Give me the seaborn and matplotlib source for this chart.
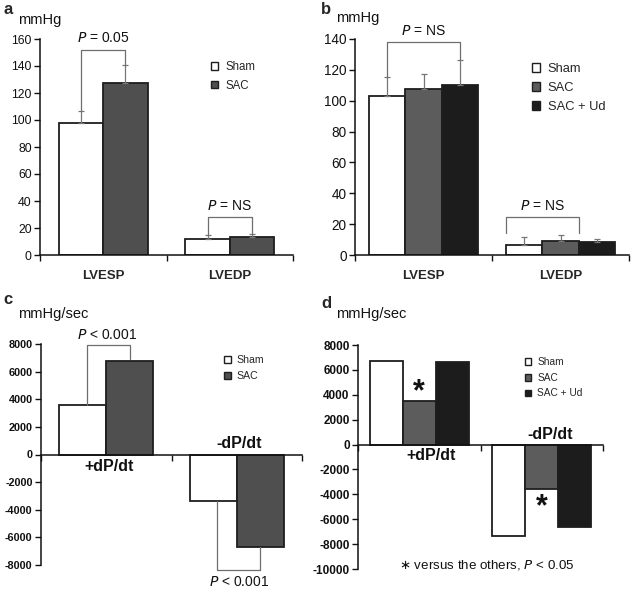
import numpy as np
import pandas as pd
import matplotlib
matplotlib.use("Agg")
import matplotlib.pyplot as plt
from matplotlib.patches import Patch
import seaborn as sns

sns.set_theme(style="white")
plt.rcParams['font.family'] = ['Liberation Sans', 'DejaVu Sans']
plt.rcParams['axes.unicode_minus'] = False

# ---------------- data ----------------
pressure_cats = ["LVESP", "LVEDP"]
deriv_cats = ["+dP/dt", "-dP/dt"]

# panel a
a_groups = ["Sham", "SAC"]
a_sham = [97.5, 11.5]
a_sac = [127.5, 13.5]
a_sham_err = [9.5, 3.3]
a_sac_err = [13.5, 2.0]

# panel b
b_groups = ["Sham", "SAC", "SAC + Ud"]
b_sham = [103, 6.5]
b_sac = [107.5, 9.3]
b_ud = [110.5, 8.2]
b_sham_err = [12.5, 5.4]
b_sac_err = [10.0, 3.7]
b_ud_err = [16.0, 2.0]

# panel c
c_groups = ["Sham", "SAC"]
c_sham = [3600, -3400]
c_sac = [6800, -6700]

# panel d
d_groups = ["Sham", "SAC", "SAC + Ud"]
d_sham = [6700, -7350]
d_sac = [3500, -3600]
d_ud = [6600, -6600]

a_yticks = list(range(0, 161, 20))
b_yticks = list(range(0, 141, 20))
c_yticks = list(range(-8000, 8001, 2000))
d_yticks = list(range(-10000, 8001, 2000))

# ---------------- styles ----------------
W, H = 633, 591
fig = plt.figure(figsize=(W / 100, H / 100), dpi=100)

def add_ax(left, top, right, bottom):
    return fig.add_axes([left / W, 1 - bottom / H, (right - left) / W, (bottom - top) / H])

EDGE = "#1e1e1e"
BRK = "#6e6e6e"
colors_ab = {"Sham": "white", "SAC": "#4f4f4f", "SAC + Ud": "#1c1c1c"}
colors_b = {"Sham": "white", "SAC": "#5c5c5c", "SAC + Ud": "#1c1c1c"}


def make_df(cats, groups, series):
    rows = []
    for g, vals in zip(groups, series):
        for c, v in zip(cats, vals):
            rows.append({"cat": c, "group": g, "val": v})
    return pd.DataFrame(rows)


def draw(ax, cats, groups, series, palette, width, ylim, yticks, tick_size, tick_bold,
         zero_axis):
    df = make_df(cats, groups, series)
    sns.barplot(data=df, x="cat", y="val", hue="group", order=cats, hue_order=groups,
                palette=palette, width=width, edgecolor=EDGE, linewidth=1.3,
                errorbar=None, legend=False, ax=ax, saturation=1)
    ax.set_xlim(-0.5, 1.5)
    ax.set_ylim(*ylim)
    ax.set_yticks(yticks)
    ax.set_yticklabels([str(v) for v in yticks], fontsize=tick_size,
                       fontweight="bold" if tick_bold else "normal", color="#111111")
    ax.set_xlabel("")
    ax.set_ylabel("")
    for s in ["top", "right"]:
        ax.spines[s].set_visible(False)
    for s in ["left", "bottom"]:
        ax.spines[s].set_color("#111111")
        ax.spines[s].set_linewidth(1.1)
    if zero_axis:
        ax.spines["bottom"].set_position(("data", 0))
    ax.set_xticks([-0.5, 0.5, 1.5], minor=True)
    ax.tick_params(axis="x", which="minor", length=4, width=1, color="#111111",
                   direction="out", bottom=True)
    ax.tick_params(axis="y", length=4, width=1, color="#111111", direction="out", left=True,
                   pad=2)
    ax.patch.set_alpha(0)
    return [list(c.patches) for c in ax.containers]


def centers(bars):
    return [p.get_x() + p.get_width() / 2 for p in bars]


def errbars(ax, bars, means, errs):
    xs = centers(bars)
    ax.errorbar(xs, means, yerr=[np.zeros(len(errs)), errs], fmt="none",
                ecolor="#777777", elinewidth=0.9, capsize=2, capthick=0.9, zorder=1)


def bracket(ax, x0, x1, y0, y1, ytop):
    ax.plot([x0, x0, x1, x1], [y0, ytop, ytop, y1], color=BRK, lw=0.9, zorder=5,
            clip_on=False)


def ptext(ax, x, y, rel, val, size=10):
    ax.text(x, y, r"$\it{P}$" + f" {rel} {val}", ha="center", va="center",
            fontsize=size, color="#111111", clip_on=False)


def legend(ax, groups, palette, anchor, size, spacing):
    handles = [Patch(facecolor=palette[g], edgecolor=EDGE, linewidth=1.0) for g in groups]
    ax.legend(handles, groups, loc="upper left", bbox_to_anchor=anchor, frameon=False,
              fontsize=size, handlelength=0.65, handleheight=0.65, handletextpad=0.6,
              labelspacing=spacing, borderaxespad=0, borderpad=0)

# ---------------- panel a ----------------
ax_a = add_ax(40, 39, 293, 255)
bars = draw(ax_a, pressure_cats, a_groups, [a_sham, a_sac], colors_ab, 0.70,
            (0, 160), a_yticks, 8.8, False, False)
errbars(ax_a, bars[0], a_sham, a_sham_err)
errbars(ax_a, bars[1], a_sac, a_sac_err)
ax_a.set_xticks([0, 1])
ax_a.set_xticklabels(pressure_cats, fontsize=9.5, fontweight="bold")
ax_a.tick_params(axis="x", which="major", length=0, pad=11)
s0, s1 = centers(bars[0]), centers(bars[1])
bracket(ax_a, s0[0], s1[0], a_sham[0] + a_sham_err[0], a_sac[0] + a_sac_err[0], 152)
ptext(ax_a, 0.0, 161, "=", "0.05")
bracket(ax_a, s0[1], s1[1], a_sham[1] + a_sham_err[1], a_sac[1] + a_sac_err[1], 28)
ptext(ax_a, 1.0, 36, "=", "NS")
legend(ax_a, a_groups, colors_ab, (0.675, 0.897), 8.3, 0.55)

# ---------------- panel b ----------------
ax_b = add_ax(355, 39, 629, 255)
bars = draw(ax_b, pressure_cats, b_groups, [b_sham, b_sac, b_ud], colors_b, 0.80,
            (0, 140), b_yticks, 9.8, False, False)
errbars(ax_b, bars[0], b_sham, b_sham_err)
errbars(ax_b, bars[1], b_sac, b_sac_err)
errbars(ax_b, bars[2], b_ud, b_ud_err)
ax_b.set_xticks([0, 1])
ax_b.set_xticklabels(pressure_cats, fontsize=9.5, fontweight="bold")
ax_b.tick_params(axis="x", which="major", length=0, pad=11)
s0, s2 = centers(bars[0]), centers(bars[2])
bracket(ax_b, s0[0], s2[0], b_sham[0] + b_sham_err[0], b_ud[0] + b_ud_err[0], 138)
ptext(ax_b, 0.0, 145, "=", "NS")
lx = bars[0][1].get_x()
rx = bars[1][1].get_x() + bars[1][1].get_width()
bracket(ax_b, lx, rx, 14, 14, 24.5)
ptext(ax_b, (lx + rx) / 2, 31.5, "=", "NS")
legend(ax_b, b_groups, colors_b, (0.645, 0.89), 9.3, 0.55)

# ---------------- panel c ----------------
ax_c = add_ax(41, 344, 302, 565)
bars = draw(ax_c, deriv_cats, c_groups, [c_sham, c_sac], colors_ab, 0.72,
            (-8000, 8000), c_yticks, 7.8, True, True)
ax_c.set_xticks([0, 1])
ax_c.set_xticklabels([])
ax_c.tick_params(axis="x", which="major", length=0)
s0, s1 = centers(bars[0]), centers(bars[1])
bracket(ax_c, s0[0] + 0.03, s1[0], c_sham[0], c_sac[0] + 150, 7900)
ptext(ax_c, 0.01, 8650, "<", "0.001")
bracket(ax_c, s0[1] + 0.03, s1[1], c_sham[1], c_sac[1], -8360)
ptext(ax_c, 1.02, -9250, "<", "0.001")
ax_c.text(0.02, -850, deriv_cats[0], ha="center", va="center", fontsize=11.5,
          fontweight="bold", color="#111111")
ax_c.text(1.02, 780, deriv_cats[1], ha="center", va="center", fontsize=11.5,
          fontweight="bold", color="#111111")
legend(ax_c, c_groups, colors_ab, (0.70, 0.95), 7.6, 0.55)

# ---------------- panel d ----------------
ax_d = add_ax(358, 345, 603, 569)
bars = draw(ax_d, deriv_cats, d_groups, [d_sham, d_sac, d_ud], colors_b, 0.81,
            (-10000, 8000), d_yticks, 8.5, True, True)
ax_d.set_xticks([0, 1])
ax_d.set_xticklabels([])
ax_d.tick_params(axis="x", which="major", length=0)
s1 = centers(bars[1])
ax_d.text(s1[0], d_sac[0] + 700, "*", ha="center", va="center", fontsize=22,
          fontweight="bold", color="#111111")
ax_d.text(s1[1], d_sac[1] - 1400, "*", ha="center", va="center", fontsize=22,
          fontweight="bold", color="#111111")
ax_d.text(0.10, -850, deriv_cats[0], ha="center", va="center", fontsize=11.5,
          fontweight="bold", color="#111111")
ax_d.text(1.07, 780, deriv_cats[1], ha="center", va="center", fontsize=11.5,
          fontweight="bold", color="#111111")
ax_d.text(0.55, -9650, r"$\ast$ versus the others, $\it{P}$ < 0.05", ha="center",
          va="center", fontsize=9.6, color="#111111")
legend(ax_d, d_groups, colors_b, (0.68, 0.945), 7.3, 0.55)

# ---------------- panel labels ----------------
for x, y, t in [(3, 9, "a"), (321, 10, "b"), (3, 300, "c"), (321, 303, "d")]:
    fig.text(x / W, 1 - y / H, t, fontsize=12, fontweight="bold", va="center", ha="left")
for x, y, t in [(18, 20, "mmHg"), (336, 18, "mmHg"), (18, 314, "mmHg/sec"), (336, 314, "mmHg/sec")]:
    fig.text(x / W, 1 - y / H, t, fontsize=10.5, va="center", ha="left", color="#111111")

fig.savefig("out.png", dpi=100, facecolor="white")
